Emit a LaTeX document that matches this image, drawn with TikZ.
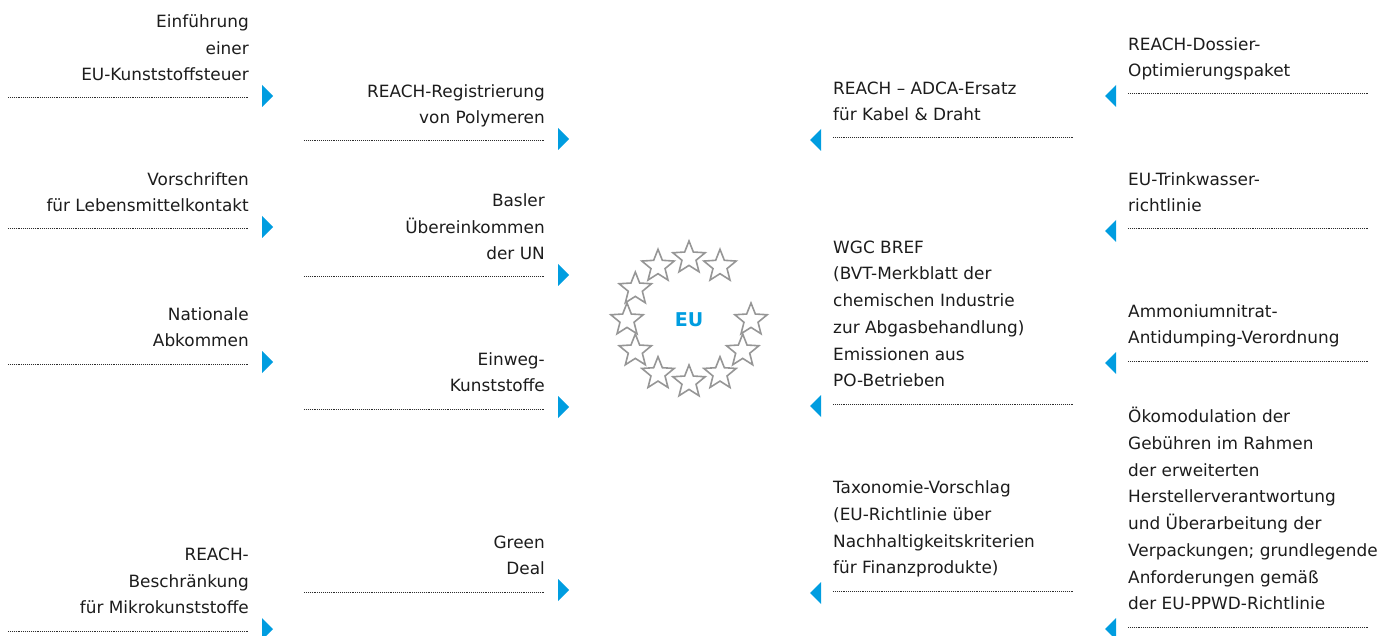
\documentclass[tikz,border=0pt]{standalone}
\usepackage{fontspec}
\setmainfont{DejaVu Sans}
\usetikzlibrary{shapes.geometric, positioning, calc}

\definecolor{eublue}{RGB}{0,157,224}
\definecolor{stargray}{RGB}{150,150,150}
\definecolor{inkgray}{RGB}{28,28,28}

\tikzset{
  lbl/.style={inner sep=0pt, font=\fontsize{16.9}{26.7}\selectfont,
              text=inkgray, execute at end node=\strut},
  lblR/.style={lbl, align=right, anchor=south east},
  lblL/.style={lbl, align=left, anchor=south west},
  dotline/.style={line width=1pt, gray!35!black,
                  dash pattern=on 0.9pt off 1pt},
  eustar/.style={star, star points=5, star point ratio=2.3,
                 minimum size=34pt, inner sep=0pt, draw=stargray,
                 line width=1.6pt},
}

\begin{document}
\begin{tikzpicture}[x=1pt, y=-1pt]
  \useasboundingbox (0,0) rectangle (1381,636);

  % Items on the left, arrow pointing to the right
  \foreach \n/\x/\y/\t in {
      steuer/249/98/{Einführung\\einer\\EU-Kunststoffsteuer},
      lebensm/249/229/{Vorschriften\\für Lebensmittelkontakt},
      national/249/364/{Nationale\\Abkommen},
      mikro/249/631/{REACH-\\Beschränkung\\für Mikrokunststoffe},
      polymer/545/141/{REACH-Registrierung\\von Polymeren},
      basel/545/277/{Basler\\Übereinkommen\\der UN},
      einweg/545/409/{Einweg-\\Kunststoffe},
      green/545/592/{Green\\Deal}} {
    \coordinate (\n-w) at (\x-241,\y);
    \coordinate (\n-e) at (\x,\y);
    \draw[dotline] (\n-w) -- (\n-e);
    \fill[eublue] ([shift={(13,-13)}]\n-e) -- ++(11,11) -- ++(-11,11) -- cycle;
    \node[lblR] (\n) at ([yshift=9pt]\n-e) {\t};
  }

  % Items on the right, arrow pointing to the left
  \foreach \n/\x/\y/\t in {
      adca/833/138/{REACH – ADCA-Ersatz\\für Kabel \& Draht},
      bref/833/404/{WGC BREF\\(BVT-Merkblatt der\\chemischen Industrie\\zur Abgasbehandlung)\\Emissionen aus\\PO-Betrieben},
      taxo/833/591/{Taxonomie-Vorschlag\\(EU-Richtlinie über\\Nachhaltigkeitskriterien\\für Finanzprodukte)},
      dossier/1128/94/{REACH-Dossier-\\Optimierungspaket},
      wasser/1128/229/{EU-Trinkwasser-\\richtlinie},
      ammon/1128/361/{Ammoniumnitrat-\\Antidumping-Verordnung},
      oeko/1128/627/{Ökomodulation der\\Gebühren im Rahmen\\der erweiterten\\Herstellerverantwortung\\und Überarbeitung der\\Verpackungen; grundlegende\\Anforderungen gemäß\\der EU-PPWD-Richtlinie}} {
    \coordinate (\n-w) at (\x,\y);
    \coordinate (\n-e) at (\x+241,\y);
    \draw[dotline] (\n-w) -- (\n-e);
    \fill[eublue] ([shift={(-12,-9)}]\n-w) -- ++(0,22) -- ++(-11,-11) -- cycle;
    \node[lblL] (\n) at ([yshift=9pt]\n-w) {\t};
  }

  % EU circle of stars
  \node[font=\bfseries\fontsize{19}{22}\selectfont, text=eublue] (eu) at (689,320) {EU};
  \foreach \a in {0,30,...,300}
    \node[eustar] (star\a) at ($(eu)+(\a:62)$) {};
\end{tikzpicture}
\end{document}
